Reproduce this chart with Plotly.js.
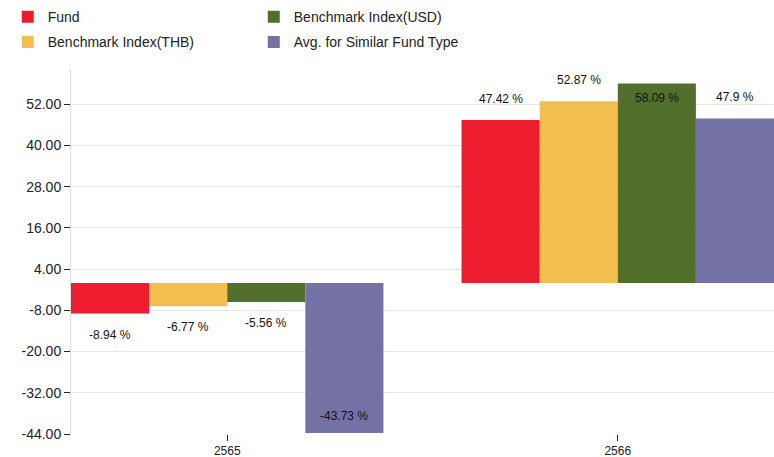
<!DOCTYPE html>
<html><head><meta charset="utf-8">
<script src="https://cdn.plot.ly/plotly-3.0.1.min.js"></script>
<style>html,body{margin:0;padding:0;background:#fff}#chart{width:774px;height:457px}</style>
</head><body><div id="chart"></div>
<script>
const categories = ['2565', '2566'];
const seriesNames = ['Fund', 'Benchmark Index(THB)', 'Benchmark Index(USD)', 'Avg. for Similar Fund Type'];
const fund = [-8.94, 47.42];
const benchTHB = [-6.77, 52.87];
const benchUSD = [-5.56, 58.09];
const avgSimilar = [-43.73, 47.9];
const yTicks = [-44, -32, -20, -8, 4, 16, 28, 40, 52];

const colors = ['#ED1C2E', '#F2BE4E', '#52702C', '#7472A5'];
const legendIds = ['legend', 'legend', 'legend2', 'legend2'];
const labelPlacement = [
  ['out', 'out'],
  ['out', 'out'],
  ['out', 'in'],
  ['in', 'out']
];
const allSeries = [fund, benchTHB, benchUSD, avgSimilar];
const FONT = 'Liberation Sans, Arial, sans-serif';

const bargap = 0.2;
const nSeries = allSeries.length;
const barW = (1 - bargap) / nSeries;

const traces = allSeries.map((vals, i) => ({
  type: 'bar',
  name: seriesNames[i],
  x: categories,
  y: vals,
  marker: {color: colors[i]},
  legend: legendIds[i],
  legendgroup: 'g' + i,
  hoverinfo: 'none'
}));

const annotations = [];
allSeries.forEach((vals, i) => {
  vals.forEach((v, j) => {
    const pos = v >= 0;
    const inside = labelPlacement[i][j] === 'in';
    let yanchor, yshift;
    if (!inside) { yanchor = pos ? 'bottom' : 'top'; yshift = pos ? 12 : -12; }
    else { yanchor = pos ? 'top' : 'bottom'; yshift = pos ? -6 : 8; }
    annotations.push({
      xref: 'x', yref: 'y',
      x: j + (i - (nSeries - 1) / 2) * barW,
      y: v,
      text: v + ' %',
      showarrow: false,
      yanchor: yanchor, yshift: yshift,
      xanchor: 'center',
      font: {family: FONT, size: 12, color: '#111'}
    });
  });
});

const legendCommon = {
  orientation: 'v',
  yanchor: 'top',
  traceorder: 'grouped',
  font: {family: FONT, size: 14, color: '#222'},
  tracegroupgap: 4,
  bgcolor: 'rgba(0,0,0,0)'
};

const layout = {
  width: 774, height: 457,
  margin: {l: 71, r: 0, t: 70, b: 23, pad: 0},
  paper_bgcolor: '#fff', plot_bgcolor: '#fff',
  font: {family: FONT, size: 13, color: '#222'},
  barmode: 'group',
  bargap: bargap,
  bargroupgap: 0,
  showlegend: true,
  legend: Object.assign({}, legendCommon, {x: -0.09, xanchor: 'left', y: 1.189}),
  legend2: Object.assign({}, legendCommon, {x: 0.26, xanchor: 'left', y: 1.189}),
  annotations: annotations,
  xaxis: {
    type: 'category',
    range: [-0.4, 1.4],
    showgrid: false,
    showline: false,
    zeroline: false,
    ticks: 'outside', ticklen: 6, tickcolor: '#222',
    tickfont: {size: 12, color: '#222'}
  },
  yaxis: {
    range: [-44, 62],
    tickvals: yTicks,
    ticktext: yTicks.map(v => v.toFixed(2)),
    showgrid: true, gridcolor: '#e6e6e6',
    zeroline: false,
    showline: true, linecolor: '#dcdcdc', linewidth: 1,
    ticks: 'outside', ticklen: 6, tickcolor: '#222',
    tickfont: {size: 14, color: '#222'}
  }
};

Plotly.newPlot('chart', traces, layout, {displayModeBar: false, staticPlot: true});
</script>
</body></html>
